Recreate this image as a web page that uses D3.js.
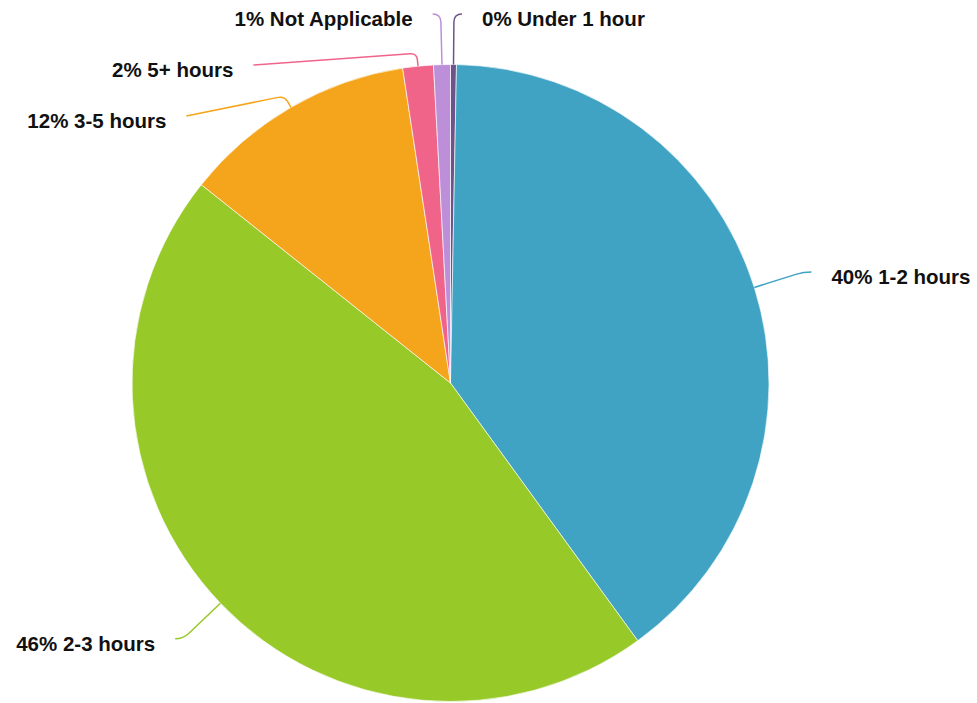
<!DOCTYPE html>
<html>
<head>
<meta charset="utf-8">
<script src="https://cdn.jsdelivr.net/npm/d3@7"></script>
<style>
  html, body { margin: 0; padding: 0; background: #fff; }
  svg { display: block; }
</style>
</head>
<body>
<svg id="chart" width="977" height="703"></svg>
<script>
// ---- data ----
const categories = ["Under 1 hour", "1-2 hours", "2-3 hours", "3-5 hours", "5+ hours", "Not Applicable"];
const values = [0.3, 39.7, 45.7, 11.9, 1.55, 0.85];
const colors = ["#6e5388", "#40a3c3", "#97c928", "#f5a51c", "#f0648a", "#bd8fd9"];

// ---- layout ----
const W = 977, H = 703;
const cx = 450.5, cy = 383, R = 318.5;
const labelR = 370, minGap = 51, topY = 14, hook = 8, textGap = 20, ext0 = 13, textDrop = 5;

const svg = d3.select("#chart");
const g = svg.append("g").attr("transform", `translate(${cx},${cy})`);

const data = categories.map((c, i) => ({ cat: c, value: values[i], color: colors[i] }));
const total = d3.sum(values);

const pie = d3.pie().value(d => d.value).sort(null);
const arcs = pie(data);
const arc = d3.arc().innerRadius(0).outerRadius(R);

g.selectAll("path.slice").data(arcs).join("path")
  .attr("class", "slice")
  .attr("d", arc)
  .attr("fill", d => d.data.color)
  .attr("stroke", "#ffffff")
  .attr("stroke-width", 0.8)
  .attr("stroke-opacity", 0.8);

// label positions
const labels = arcs.map(a => {
  const mid = (a.startAngle + a.endAngle) / 2;
  const s = Math.sin(mid), c = Math.cos(mid);
  return {
    a, mid, s, c,
    side: s >= 0 ? 1 : -1,
    x: labelR * s, y: -labelR * c,
    pushed: false
  };
});
[1, -1].forEach(side => {
  const grp = labels.filter(l => l.side === side).sort((p, q) => p.y - q.y);
  let prev = null;
  grp.forEach(l => {
    if (l.y < topY - cy) l.y = topY - cy;
    if (prev && l.y < prev.y + minGap) {
      l.y = prev.y + minGap;
      l.pushed = true;
    }
    if (l.pushed) {
      l.x = side * Math.sqrt(Math.max(0, labelR * labelR - l.y * l.y));
    }
    prev = l;
  });
});

labels.forEach(l => {
  const p0 = [R * l.s, -R * l.c];
  const dir = [l.s, -l.c];
  const end = [l.x + l.side * hook, l.y];
  let ext = ext0;
  if (Math.abs(dir[1]) > 1e-6) {
    const ty = (end[1] - p0[1]) / dir[1];
    if (ty > ext0) ext = ty;
  }
  const E = [p0[0] + dir[0] * ext, p0[1] + dir[1] * ext];
  const d1 = Math.hypot(E[0] - p0[0], E[1] - p0[1]);
  const d2 = Math.hypot(end[0] - E[0], end[1] - E[1]);
  const rc = Math.min(10, d1 / 2, d2);
  const u1 = [(E[0] - p0[0]) / d1, (E[1] - p0[1]) / d1];
  const u2 = d2 > 0 ? [(end[0] - E[0]) / d2, (end[1] - E[1]) / d2] : [0, 0];
  const A = [E[0] - u1[0] * rc, E[1] - u1[1] * rc];
  const B = [E[0] + u2[0] * rc, E[1] + u2[1] * rc];
  const path = d3.path();
  path.moveTo(p0[0], p0[1]);
  path.lineTo(A[0], A[1]);
  path.quadraticCurveTo(E[0], E[1], B[0], B[1]);
  path.lineTo(end[0], end[1]);
  g.append("path")
    .attr("d", path.toString())
    .attr("fill", "none")
    .attr("stroke", l.a.data.color)
    .attr("stroke-width", 1.5);

  const pct = Math.round(l.a.data.value / total * 100);
  g.append("text")
    .attr("x", end[0] + l.side * textGap)
    .attr("y", end[1] + textDrop)
    .attr("dy", "0.35em")
    .attr("text-anchor", l.side > 0 ? "start" : "end")
    .attr("font-family", "'Liberation Sans', Arial, Helvetica, sans-serif")
    .attr("font-weight", "bold")
    .attr("font-size", "20.5px")
    .attr("fill", "#111")
    .text(`${pct}% ${l.a.data.cat}`);
});
</script>
</body>
</html>
